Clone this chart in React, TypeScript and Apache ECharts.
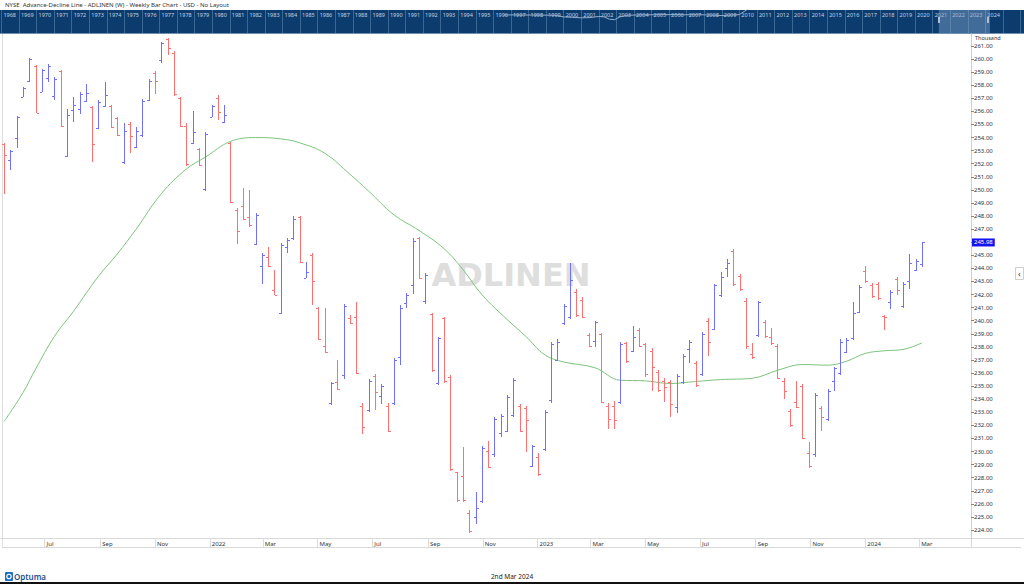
import React, { useEffect, useRef } from 'react';
import * as echarts from 'echarts';

// Weekly OHLC (thousand), weeks starting Monday 17 May 2021
const opens = [
  253.5, 252.3, 254.0, 257.1, 258.3, 259.5, 257.5, 258.58, 257.2, 259.1,
  252.6, 256.1, 256.2, 256.8, 256.3, 254.7, 256.4, 256.4, 255.5, 252.1,
  255.0, 253.3, 254.2, 256.9, 258.9, 259.93, 261.5, 260.5, 257.0, 254.9,
  253.6, 253.1, 250.1, 255.6, 257.0, 255.2, 253.6, 248.5, 248.77, 247.95,
  245.9, 244.21, 244.9, 242.34, 240.6, 245.66, 246.3, 247.9, 243.3, 245.0,
  241.0, 238.09, 233.7, 235.34, 235.85, 240.2, 240.26, 233.5, 233.2, 235.8,
  234.24, 233.5, 233.7, 237.2, 241.33, 242.73, 246.3, 241.53, 240.5, 235.2,
  240.2, 235.7, 228.4, 228.15, 225.27, 225.0, 226.2, 230.04, 229.8, 231.44,
  231.6, 232.8, 233.5, 233.3, 228.9, 229.6, 230.2, 233.9, 237.0, 239.8,
  240.3, 242.2, 241.6, 238.9, 238.45, 239.0, 233.5, 233.5, 233.8, 238.3,
  237.7, 239.3, 238.2, 237.7, 236.1, 235.4, 235.3, 233.37, 235.3, 237.81,
  236.8, 235.9, 240.0, 239.4, 242.0, 244.0, 245.3, 243.4, 241.5, 237.45,
  238.9, 239.9, 238.78, 238.1, 235.4, 233.1, 233.81, 235.0, 229.91, 229.8,
  233.3, 232.5, 235.41, 236.0, 237.6, 238.7, 240.7, 243.8, 242.7, 242.8,
  240.35, 241.45, 243.2, 241.1, 243.0, 243.9, 244.3
];
const highs = [
  253.56, 253.05, 255.67, 257.89, 260.11, 259.55, 259.22, 259.6, 258.66, 259.17,
  256.18, 257.1, 257.46, 258.07, 256.44, 256.85, 258.27, 256.49, 255.6, 255.09,
  255.22, 254.83, 256.92, 258.45, 259.09, 261.33, 261.59, 260.62, 257.13, 255.09,
  256.06, 253.18, 254.45, 256.49, 257.25, 256.49, 253.69, 248.64, 250.12, 249.99,
  248.21, 245.15, 245.61, 243.87, 245.97, 246.3, 248.03, 248.03, 244.51, 245.15,
  241.07, 240.94, 235.34, 236.99, 241.28, 240.43, 241.45, 233.68, 235.52, 235.92,
  235.13, 233.68, 237.12, 241.2, 242.09, 246.3, 246.42, 243.67, 240.61, 238.78,
  240.31, 235.85, 228.46, 230.37, 225.53, 226.93, 230.42, 230.83, 232.61, 232.87,
  234.32, 235.59, 233.63, 233.48, 230.5, 229.86, 233.17, 238.35, 238.57, 241.28,
  244.38, 242.4, 241.79, 239.08, 240.0, 239.08, 233.68, 233.88, 238.35, 238.4,
  239.62, 239.47, 238.32, 237.89, 236.23, 235.59, 235.47, 235.9, 237.45, 238.52,
  236.92, 239.16, 240.18, 242.8, 243.7, 244.69, 245.48, 243.57, 241.71, 238.32,
  241.5, 240.05, 239.42, 238.22, 235.59, 233.22, 235.41, 235.16, 230.7, 234.45,
  233.48, 234.75, 236.48, 238.57, 238.65, 241.45, 242.73, 244.18, 242.86, 242.98,
  240.43, 242.35, 243.37, 242.98, 245.1, 244.69, 245.99
];
const lows = [
  249.66, 251.52, 253.18, 257.07, 258.27, 255.85, 257.46, 258.22, 256.87, 254.83,
  252.49, 255.22, 255.78, 256.69, 252.16, 254.63, 256.31, 254.71, 254.12, 251.95,
  252.79, 253.18, 254.07, 256.82, 257.31, 259.67, 260.31, 257.18, 254.83, 251.85,
  253.48, 251.85, 249.94, 255.55, 255.34, 255.09, 248.97, 245.84, 247.7, 247.19,
  245.79, 242.81, 244.13, 241.96, 240.51, 245.2, 246.17, 244.39, 243.24, 241.2,
  238.52, 237.5, 233.55, 234.7, 235.52, 239.75, 235.92, 231.31, 233.04, 233.17,
  233.6, 231.51, 233.55, 236.61, 240.94, 242.04, 243.19, 241.25, 236.1, 235.08,
  235.26, 228.53, 226.16, 226.16, 223.74, 224.43, 226.09, 228.71, 229.6, 231.13,
  231.46, 232.66, 231.52, 229.98, 228.79, 228.13, 230.06, 233.73, 236.92, 239.67,
  240.1, 240.26, 240.18, 238.01, 238.01, 233.68, 231.69, 231.69, 233.63, 236.79,
  237.63, 238.01, 235.72, 234.65, 234.57, 233.81, 232.66, 232.97, 235.16, 236.79,
  234.96, 235.8, 237.3, 239.29, 241.84, 243.37, 242.65, 242.29, 237.81, 237.05,
  238.78, 238.65, 238.14, 235.52, 233.99, 231.85, 233.3, 230.93, 228.71, 229.6,
  231.59, 232.36, 234.65, 235.85, 237.5, 238.52, 240.56, 242.91, 241.71, 241.58,
  239.29, 240.89, 241.96, 240.94, 242.4, 243.82, 244.13
];
const closes = [
  252.67, 252.95, 255.6, 257.8, 260.0, 255.9, 259.2, 259.5, 258.5, 254.9,
  255.72, 256.49, 257.3, 257.38, 253.51, 256.7, 257.25, 254.8, 254.2, 254.53,
  254.14, 254.5, 256.8, 258.3, 258.35, 261.2, 260.82, 257.3, 254.9, 252.0,
  254.4, 251.9, 254.3, 256.4, 255.93, 255.73, 249.1, 246.86, 247.75, 247.3,
  248.1, 245.0, 244.2, 242.0, 245.8, 246.2, 247.75, 244.5, 243.75, 243.06,
  238.6, 237.6, 235.2, 234.8, 241.1, 239.8, 236.0, 231.85, 235.4, 234.57,
  235.0, 231.6, 237.0, 241.0, 242.0, 246.1, 243.3, 243.5, 236.2, 238.7,
  235.4, 228.7, 226.3, 226.3, 223.9, 225.7, 230.3, 228.8, 232.5, 232.7,
  234.2, 235.5, 231.6, 232.41, 230.4, 228.3, 233.0, 238.2, 238.4, 241.1,
  243.11, 240.4, 240.3, 238.1, 239.9, 233.8, 232.46, 232.4, 238.2, 236.9,
  238.78, 238.1, 235.9, 236.48, 234.7, 234.96, 233.63, 235.8, 237.3, 238.4,
  235.1, 239.0, 238.4, 242.7, 243.31, 244.4, 242.8, 242.4, 238.06, 237.2,
  241.4, 238.8, 238.3, 235.6, 234.62, 232.0, 233.4, 231.0, 228.9, 234.3,
  232.61, 234.6, 236.4, 238.4, 238.5, 240.56, 242.6, 243.0, 241.89, 241.7,
  240.25, 242.2, 242.35, 242.8, 244.4, 244.6, 245.98
];

// Moving average at selected weeks
const maWeeks = [0, 3, 5, 8, 11, 15, 18, 21, 25, 29, 32, 36, 40, 44, 47, 51, 55, 58, 62, 66, 70, 73, 76, 80, 83, 86, 89, 94, 98, 102, 106, 110, 114, 119, 123, 127, 131, 134, 137, 140, 143, 146];
const maValues = [232.3, 234.5, 236.3, 238.8, 240.7, 243.4, 245.1, 247.0, 249.7, 251.6, 252.5, 253.7, 254.0, 253.9, 253.6, 252.8, 251.2, 249.9, 248.1, 246.9, 245.5, 243.9, 242.0, 240.1, 238.8, 237.4, 236.85, 236.4, 235.45, 235.4, 235.2, 235.35, 235.5, 235.6, 236.2, 236.65, 236.6, 236.9, 237.5, 237.7, 237.8, 238.3];

const lastValue = 245.98;
const monthNames = ['Jan', 'Feb', 'Mar', 'Apr', 'May', 'Jun', 'Jul', 'Aug', 'Sep', 'Oct', 'Nov', 'Dec'];

// Navigator (history strip)
const navLine = [[1996.6, 79], [1997.5, 78], [1998.5, 78], [1999.5, 77], [2000.0, 70], [2000.5, 68], [2001.0, 66], [2001.5, 67], [2002.0, 72], [2002.3, 70], [2002.6, 60], [2002.9, 58], [2003.2, 70], [2003.6, 77], [2004.5, 79], [2006, 80], [2008, 79], [2009, 76], [2010, 80], [2010.6, 110]];
const navSelection = [2021.35, 2024.26];

const DAY = 86400000;
const weekDates = opens.map((_, i) => new Date(2021, 4, 17 + 7 * i).getTime());
const X_MIN = new Date(2021, 4, 13, 12).getTime();
const X_MAX = X_MIN + 154 * 7 * DAY;
const Y_MIN = 223.388;
const Y_MAX = 261.917;

const BLUE = '#7070ff';
const RED = '#ff7070';
const FONT = 'Noto Sans';

function barSeries(up: boolean) {
  const data: number[][] = [];
  opens.forEach((o, i) => {
    if ((closes[i] >= o) === up) data.push([weekDates[i], o, highs[i], lows[i], closes[i]]);
  });
  const color = up ? BLUE : RED;
  return {
    type: 'custom', name: up ? 'up' : 'down', xAxisIndex: 0, yAxisIndex: 0, data, z: 4, silent: true,
    itemStyle: { color },
    emphasis: { disabled: true },
    encode: { x: 0, y: [1, 2, 3, 4] },
    renderItem: (params: any, api: any) => {
      const t = api.value(0);
      const o = api.value(1), h = api.value(2), l = api.value(3), c = api.value(4);
      const ph = api.coord([t, h]);
      const x = Math.round(ph[0]);
      const yh = Math.round(ph[1]);
      const yl = Math.round(api.coord([t, l])[1]);
      const yo = Math.round(api.coord([t, o])[1]);
      const yc = Math.round(api.coord([t, c])[1]);
      const st = { fill: color, stroke: null };
      return {
        type: 'group',
        children: [
          { type: 'rect', shape: { x: x, y: yh, width: 1, height: Math.max(1, yl - yh) }, style: { ...st } },
          { type: 'rect', shape: { x: x - 2, y: yo, width: 2, height: 1 }, style: { ...st } },
          { type: 'rect', shape: { x: x + 1, y: yc, width: 2, height: 1 }, style: { ...st } },
        ],
      };
    },
  };
}

function buildOption() {
  const ma = maWeeks.map((w, k) => [weekDates[w], maValues[k]]);
  return {
    animation: false,
    textStyle: { fontFamily: FONT },
    grid: [
      { left: 1, right: 55, top: 34, bottom: 46 },
      { left: 1.4, right: 3.5, top: 10, height: 23 },
    ],
    xAxis: [
      {
        type: 'time', gridIndex: 0, min: X_MIN, max: X_MAX, splitNumber: 16,
        axisLine: { show: true, lineStyle: { color: '#d9d9d9' } },
        axisTick: { show: true, length: 9, lineStyle: { color: '#dcdcdc' } },
        axisLabel: {
          fontSize: 6, color: '#333', align: 'left', margin: 3, padding: [0, 0, 0, 2],
          showMinLabel: false, showMaxLabel: false, hideOverlap: false,
          formatter: (v: number) => {
            const d = new Date(v);
            return d.getMonth() === 0 ? String(d.getFullYear()) : monthNames[d.getMonth()];
          },
        },
        splitLine: { show: false },
      },
      {
        type: 'value', gridIndex: 1, position: 'top', min: 1968, max: 2026, interval: 1,
        axisLine: { show: false }, axisTick: { show: false },
        axisLabel: {
          inside: true, align: 'left', margin: 2, padding: [0, 0, 0, 2], fontSize: 5.5, color: '#c3d1e2',
          formatter: (v: number) => (v <= 2024 ? String(v) : ''),
        },
        splitLine: { show: true, lineStyle: { color: '#3b6892', width: 1 } },
      },
    ],
    yAxis: [
      {
        type: 'value', gridIndex: 0, position: 'right', offset: 2, min: Y_MIN, max: Y_MAX,
        splitNumber: 38, minInterval: 1, maxInterval: 1,
        axisLine: { show: true, lineStyle: { color: '#cfcfcf' } },
        axisTick: { show: true, length: 3, lineStyle: { color: '#888' } },
        axisLabel: {
          fontSize: 6, color: '#333', margin: 3, showMinLabel: false, showMaxLabel: false,
          formatter: (v: number) => (Math.abs(v - Math.round(v)) < 1e-6 ? v.toFixed(2) : ''),
        },
        splitLine: { show: false },
      },
      { type: 'value', gridIndex: 1, min: 0, max: 100, show: false },
    ],
    series: [
      {
        type: 'line', xAxisIndex: 1, yAxisIndex: 1, data: navLine, showSymbol: false, silent: true,
        lineStyle: { color: '#94aecb', width: 1 }, clip: true,
        markArea: {
          silent: true,
          itemStyle: { color: 'rgba(130,165,205,0.45)' },
          data: [[{ xAxis: navSelection[0] }, { xAxis: navSelection[1] }]],
        },
      },
      {
        type: 'line', xAxisIndex: 0, yAxisIndex: 0, data: ma, smooth: 0.4, showSymbol: false, silent: true,
        lineStyle: { color: '#7cc47c', width: 1 }, z: 3,
        markLine: {
          silent: true, symbol: ['none', 'none'],
          lineStyle: { color: 'transparent', width: 0 },
          label: {
            show: true, position: 'end', formatter: lastValue.toFixed(2), color: '#fff',
            backgroundColor: '#1414f0', fontSize: 6, padding: [1, 2], distance: 3,
          },
          data: [{ yAxis: lastValue }],
        },
      },
      barSeries(true),
      barSeries(false),
    ],
    graphic: [
      { type: 'rect', z: -10, silent: true, shape: { x: 0, y: 10, width: 1024, height: 23 }, style: { fill: '#0c3c6d' } },
      { type: 'line', silent: true, shape: { x1: 0, y1: 33.5, x2: 1024, y2: 33.5 }, style: { stroke: '#6f90b5', lineWidth: 1 } },
      { type: 'rect', silent: true, z: 5, shape: { x: 938, y: 17, width: 2, height: 6 }, style: { fill: '#aebfd3' } },
      { type: 'rect', silent: true, z: 5, shape: { x: 987, y: 17, width: 2, height: 6 }, style: { fill: '#aebfd3' } },
      { type: 'text', silent: true, x: 5, y: 5, style: { text: 'NYSE  Advance-Decline Line - ADLINEN (W) - Weekly Bar Chart - USD - No Layout', fontSize: 6, fontFamily: FONT, fill: '#333', verticalAlign: 'middle' } },
      { type: 'text', silent: true, z: -5, x: 511, y: 275, style: { text: 'ADLINEN', fontSize: 32, fontWeight: 'bold', fontFamily: 'DejaVu Sans', fill: '#dedede', align: 'center', verticalAlign: 'middle' } },
      { type: 'text', silent: true, x: 975, y: 38, style: { text: 'Thousand', fontSize: 5.5, fontFamily: FONT, fill: '#333', verticalAlign: 'middle' } },
      { type: 'line', silent: true, shape: { x1: 2.5, y1: 34, x2: 2.5, y2: 548 }, style: { stroke: '#dedede', lineWidth: 1 } },
      { type: 'line', silent: true, shape: { x1: 969, y1: 538.5, x2: 1024, y2: 538.5 }, style: { stroke: '#d9d9d9', lineWidth: 1 } },
      { type: 'line', silent: true, shape: { x1: 2.5, y1: 547.5, x2: 1021, y2: 547.5 }, style: { stroke: '#d9d9d9', lineWidth: 1 } },
      { type: 'line', silent: true, shape: { x1: 971.5, y1: 538, x2: 971.5, y2: 548 }, style: { stroke: '#d9d9d9', lineWidth: 1 } },
      { type: 'rect', silent: true, shape: { x: 1015.5, y: 267.5, width: 8, height: 12 }, style: { fill: '#fff', stroke: '#cfcfcf', lineWidth: 1 } },
      { type: 'text', silent: true, x: 1019.5, y: 273.5, style: { text: '‹', fontSize: 9, fontFamily: FONT, fill: '#333', align: 'center', verticalAlign: 'middle' } },
      { type: 'rect', silent: true, shape: { x: 5, y: 572, width: 8, height: 9, r: 1 }, style: { fill: '#1f6fc2' } },
      { type: 'circle', silent: true, shape: { cx: 9, cy: 576.5, r: 2.2 }, style: { fill: 'none', stroke: '#fff', lineWidth: 1.2 } },
      { type: 'text', silent: true, x: 14, y: 576.5, style: { text: 'Optuma', fontSize: 8, fontWeight: 600, fontFamily: FONT, fill: '#1d4f8f', verticalAlign: 'middle' } },
      { type: 'text', silent: true, x: 512, y: 576, style: { text: '2nd Mar 2024', fontSize: 6.5, fontFamily: FONT, fill: '#222', align: 'center', verticalAlign: 'middle' } },
      { type: 'rect', silent: true, shape: { x: 0, y: 582, width: 1024, height: 2 }, style: { fill: '#111' } },
    ],
  };
}

export default function App() {
  const ref = useRef<HTMLDivElement>(null);
  useEffect(() => {
    document.body.style.margin = '0';
    const chart = echarts.init(ref.current as HTMLDivElement, null, { renderer: 'svg', width: 1024, height: 584 });
    chart.setOption(buildOption() as any);
    return () => chart.dispose();
  }, []);
  return <div ref={ref} style={{ position: 'fixed', left: 0, top: 0, width: 1024, height: 584, background: '#fff' }} />;
}
